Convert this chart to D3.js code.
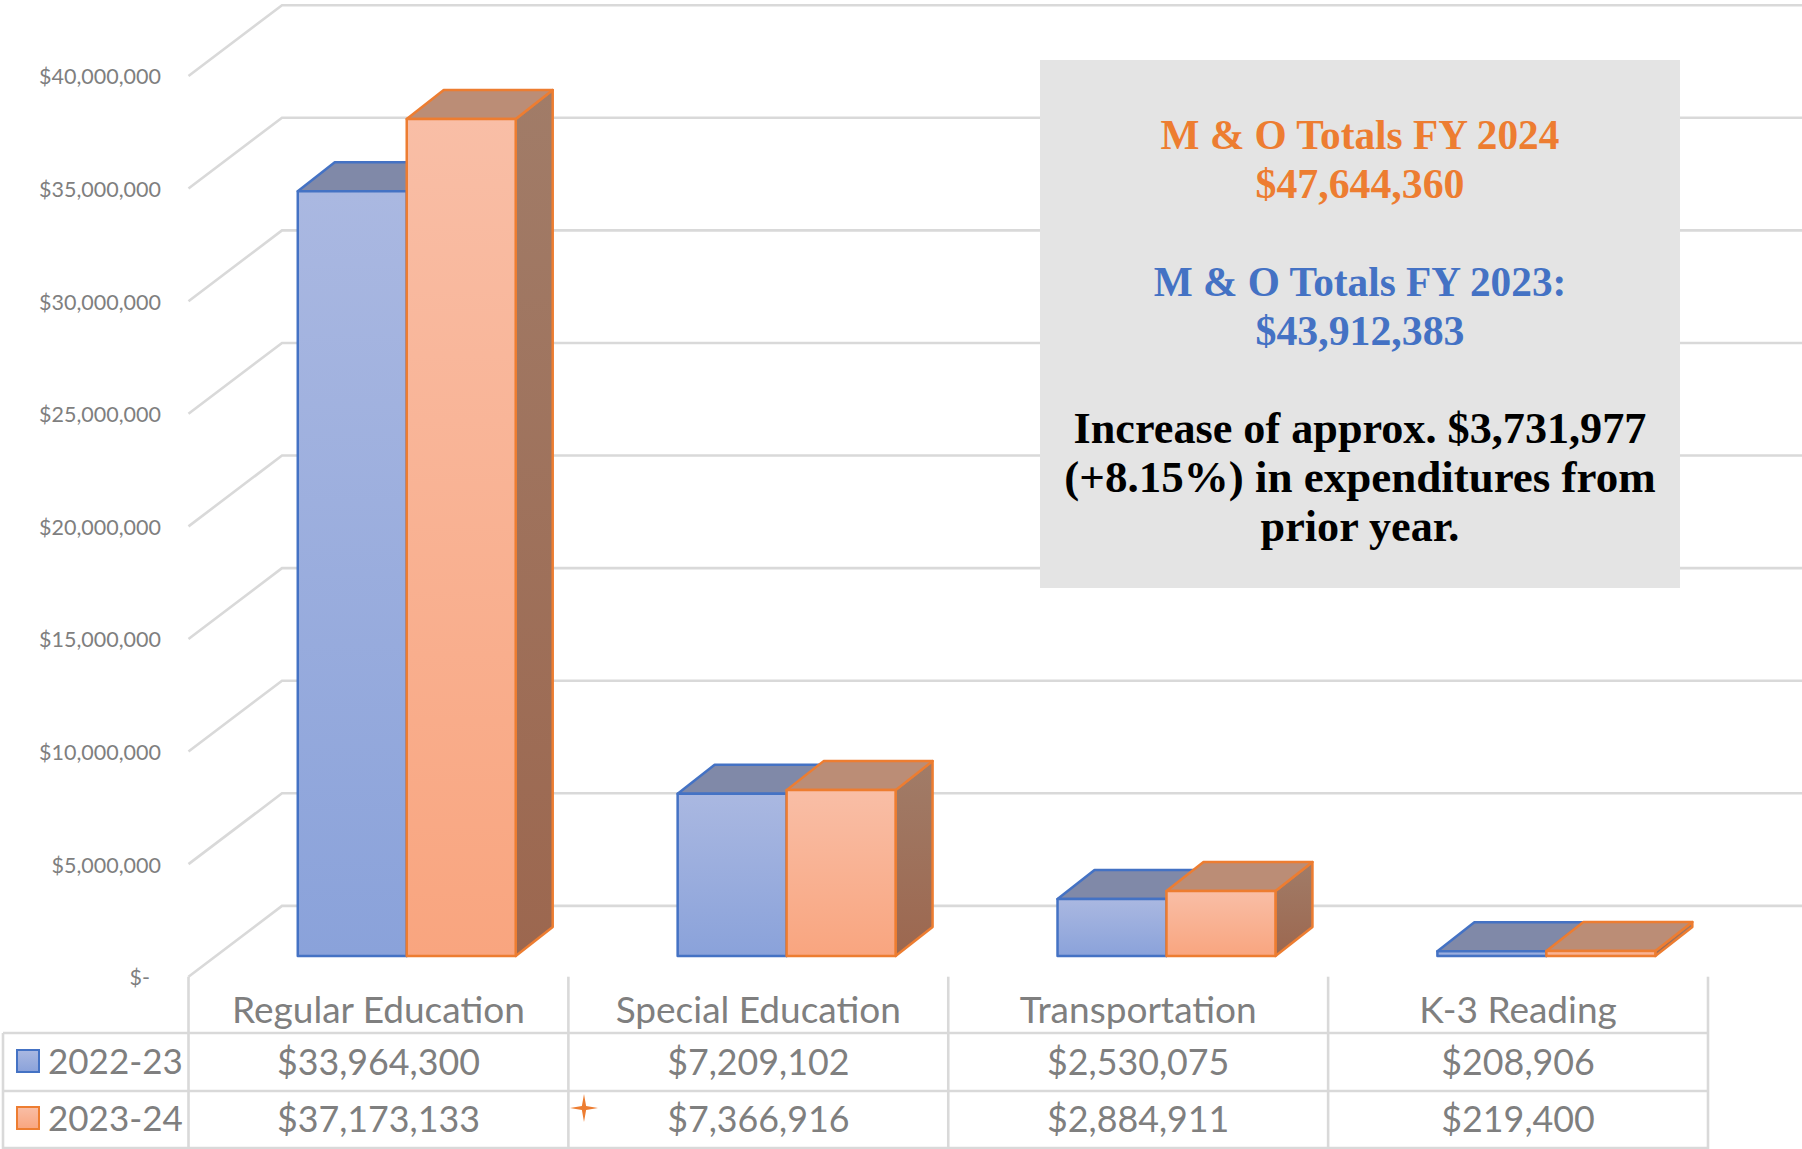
<!DOCTYPE html>
<html>
<head>
<meta charset="utf-8">
<script src="https://cdn.jsdelivr.net/npm/d3@7"></script>
<style>
  html, body { margin: 0; padding: 0; background: #fff; }
  svg { display: block; }
  text { font-family: Lato, "Noto Sans", sans-serif; fill: #7f7f7f; }
  .note { font-family: "Liberation Serif", serif; font-weight: bold; }
</style>
</head>
<body>
<div class="graph"></div>
<script>
const categories = ["Regular Education", "Special Education", "Transportation", "K-3 Reading"];
const seriesNames = ["2022-23", "2023-24"];
const values2223 = [33964300, 7209102, 2530075, 208906];
const values2324 = [37173133, 7366916, 2884911, 219400];
const yTicks = [0, 5000000, 10000000, 15000000, 20000000, 25000000, 30000000, 35000000, 40000000];
const noteLines = [
  "M & O Totals FY 2024",
  "$47,644,360",
  "M & O Totals FY 2023:",
  "$43,912,383",
  "Increase of approx. $3,731,977",
  "(+8.15%) in expenditures from",
  "prior year."
];

const dimensions = {
  width: 1802,
  height: 1149,
  plotLeft: 188.5,
  plotRight: 1708,
  plotBottom: 976.7,
  plotTop: 76,
  wallDx: 93.5,
  wallDy: -70.8,
  barShiftX: 28.3,
  barShiftY: -20.7,
  barDx: 37,
  barDy: -29
};

const palette = [
  { stroke: "#4472c4", top: "#8089a8", side: ["#8089a8", "#8089a8"], front: ["#aab8e1", "#8aa2da"] },
  { stroke: "#ed7d31", top: "#bb8d76", side: ["#a17c68", "#9c674f"], front: ["#f9bea6", "#f9a57f"] }
];
const gridColor = "#d9d9d9";
const noteColors = ["#ed7d31", "#ed7d31", "#4472c4", "#4472c4", "#000", "#000", "#000"];
const noteSizes = [41.3, 41.8, 41.3, 41.8, 44.2, 45, 44.2];
const noteY = [149, 198, 296, 345, 443, 492, 541];

const xScale = d3.scaleBand()
  .domain(categories)
  .range([dimensions.plotLeft, dimensions.plotRight]);

const seriesScale = d3.scaleBand()
  .domain(seriesNames)
  .range([0, xScale.bandwidth()])
  .paddingOuter(0.743)
  .paddingInner(0);

const yScale = d3.scaleLinear()
  .domain([0, 40000000])
  .range([dimensions.plotBottom, dimensions.plotTop]);

const svg = d3.select(".graph")
  .append("svg")
  .attr("width", dimensions.width)
  .attr("height", dimensions.height);

const defs = svg.append("defs");
palette.forEach((p, i) => {
  ["front", "side"].forEach(face => {
    const grad = defs.append("linearGradient")
      .attr("id", `${face}${i}`)
      .attr("x1", 0).attr("y1", 0).attr("x2", 0).attr("y2", 1);
    grad.append("stop").attr("offset", 0).attr("stop-color", p[face][0]);
    grad.append("stop").attr("offset", 1).attr("stop-color", p[face][1]);
  });
});

// back wall and left wall lines
const grid = svg.append("g")
  .attr("fill", "none")
  .attr("stroke", gridColor)
  .attr("stroke-width", 2.6);

grid.selectAll("path")
  .data(yTicks)
  .enter()
  .append("path")
  .attr("d", d => d3.line()([
    [dimensions.plotLeft, yScale(d)],
    [dimensions.plotLeft + dimensions.wallDx, yScale(d) + dimensions.wallDy],
    [dimensions.width, yScale(d) + dimensions.wallDy]
  ]));

// y axis
const yAxis = svg.append("g")
  .attr("transform", "translate(161, 1)")
  .call(d3.axisLeft(yScale)
    .tickValues(yTicks)
    .tickSize(0)
    .tickPadding(0)
    .tickFormat(d => d === 0 ? "$-" : d3.format("$,")(d)));
yAxis.select(".domain").remove();
yAxis.selectAll("text")
  .attr("font-size", 21.5)
  .attr("font-family", null)
  .attr("dx", d => d === 0 ? -11 : 0);

// bars
const rows = seriesNames.map((name, s) => ({
  name, s, values: s === 0 ? values2223 : values2324
}));

const line = d3.line();
rows.forEach(row => {
  const p = palette[row.s];
  const bars = svg.append("g")
    .attr("stroke", p.stroke)
    .attr("stroke-width", 2.5)
    .attr("stroke-linejoin", "round")
    .selectAll("g")
    .data(row.values.map((v, i) => ({ v, cat: categories[i] })))
    .enter()
    .append("g");

  const left = d => xScale(d.cat) + seriesScale(row.name) + dimensions.barShiftX;
  const right = d => left(d) + seriesScale.bandwidth();
  const top = d => yScale(d.v) + dimensions.barShiftY;
  const bottom = () => yScale(0) + dimensions.barShiftY;

  bars.append("path")
    .attr("fill", `url(#side${row.s})`)
    .attr("d", d => line([
      [right(d), top(d)],
      [right(d) + dimensions.barDx, top(d) + dimensions.barDy],
      [right(d) + dimensions.barDx, bottom() + dimensions.barDy],
      [right(d), bottom()]
    ]) + "Z");

  bars.append("path")
    .attr("fill", p.top)
    .attr("d", d => line([
      [left(d), top(d)],
      [left(d) + dimensions.barDx, top(d) + dimensions.barDy],
      [right(d) + dimensions.barDx, top(d) + dimensions.barDy],
      [right(d), top(d)]
    ]) + "Z");

  bars.append("rect")
    .attr("fill", `url(#front${row.s})`)
    .attr("x", left)
    .attr("y", top)
    .attr("width", seriesScale.bandwidth())
    .attr("height", d => bottom() - top(d));
});

// note box
const note = svg.append("g");
note.append("rect")
  .attr("x", 1040)
  .attr("y", 60)
  .attr("width", 640)
  .attr("height", 528)
  .attr("fill", "#e4e4e4");

note.selectAll("text")
  .data(noteLines)
  .enter()
  .append("text")
  .attr("class", "note")
  .attr("x", 1360)
  .attr("y", (d, i) => noteY[i])
  .attr("text-anchor", "middle")
  .attr("font-size", (d, i) => noteSizes[i])
  .style("fill", (d, i) => noteColors[i])
  .text(d => d);

// data table
const rowLines = [1033, 1091, 1148];
const table = svg.append("g")
  .attr("stroke", gridColor)
  .attr("stroke-width", 2.6);

table.selectAll(".row-line")
  .data(rowLines)
  .enter()
  .append("line")
  .attr("x1", 3)
  .attr("x2", dimensions.plotRight)
  .attr("y1", d => d)
  .attr("y2", d => d);

table.selectAll(".col-line")
  .data(categories.map(c => xScale(c)).concat([dimensions.plotRight]))
  .enter()
  .append("line")
  .attr("x1", d => d)
  .attr("x2", d => d)
  .attr("y1", dimensions.plotBottom)
  .attr("y2", 1149);

table.append("line")
  .attr("x1", 3).attr("x2", 3)
  .attr("y1", rowLines[0]).attr("y2", 1149);

svg.append("g").selectAll("text")
  .data(categories)
  .enter()
  .append("text")
  .attr("x", d => xScale(d) + xScale.bandwidth() / 2)
  .attr("y", 1023)
  .attr("text-anchor", "middle")
  .attr("font-size", 37)
  .text(d => d);

const rowText = [1074, 1131];
rows.forEach(row => {
  const g = svg.append("g");
  const p = palette[row.s];

  g.append("rect")
    .attr("x", 17)
    .attr("y", rowText[row.s] - 24)
    .attr("width", 22)
    .attr("height", 22)
    .attr("fill", `url(#front${row.s})`)
    .attr("stroke", p.stroke)
    .attr("stroke-width", 2);

  g.append("text")
    .attr("x", 48)
    .attr("y", rowText[row.s])
    .attr("font-size", 35)
    .text(row.name);

  g.selectAll(".value")
    .data(row.values)
    .enter()
    .append("text")
    .attr("x", (d, i) => xScale(categories[i]) + xScale.bandwidth() / 2)
    .attr("y", rowText[row.s] + 1)
    .attr("text-anchor", "middle")
    .attr("font-size", 35.8)
    .text(d => d3.format("$,")(d));
});

// small orange sparkle next to the table
const starRadius = [14, 3, 14, 3, 14, 3, 14, 3];
svg.append("path")
  .attr("transform", "translate(584, 1108)")
  .attr("fill", "#ed7d31")
  .attr("d", d3.lineRadial()
    .angle((d, i) => i * Math.PI / 4)
    .radius(d => d)(starRadius) + "Z");
</script>
</body>
</html>
